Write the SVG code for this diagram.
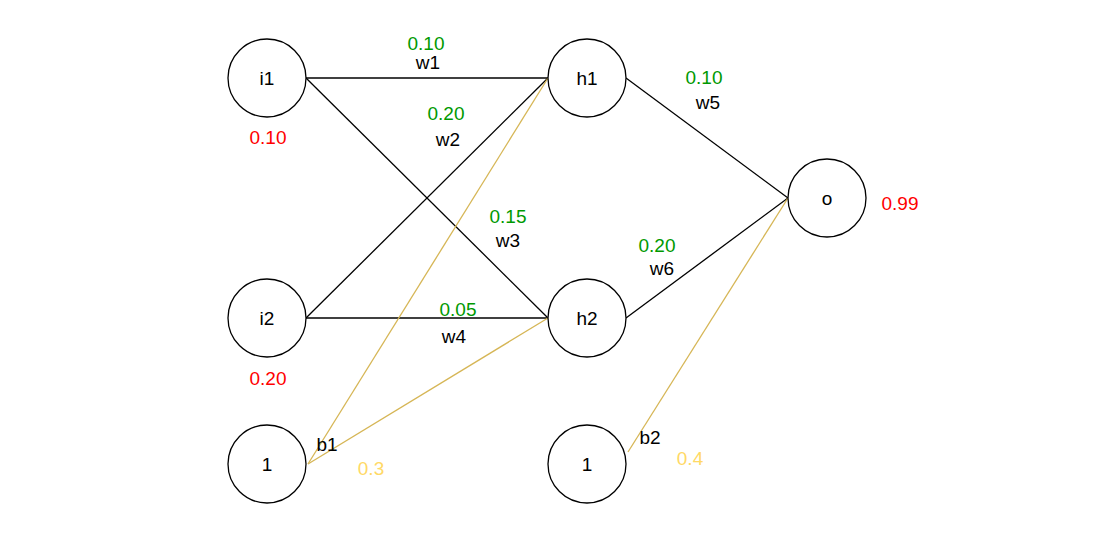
<svg xmlns="http://www.w3.org/2000/svg" width="1117" height="543" viewBox="0 0 1117 543">
<style>
text{font-family:"Liberation Sans",Arial,sans-serif;font-size:19px;text-anchor:middle;dominant-baseline:central}
.n circle{fill:#fff;stroke:#000;stroke-width:1.3}
.g{fill:#009900}.r{fill:#ff0000}.y{fill:#ffd966}
.e line{stroke:#000;stroke-width:1.3}
.e line.b{stroke:#d6b656}
</style>
<rect width="1117" height="543" fill="#fff"/>
<g class="e" id="connectors">
<line x1="306" y1="78" x2="548" y2="78"/>
<line x1="306" y1="78" x2="548" y2="318"/>
<line x1="306" y1="318" x2="548" y2="78"/>
<line x1="306" y1="318" x2="548" y2="318"/>
<line x1="626" y1="78" x2="788" y2="198"/>
<line x1="626" y1="318" x2="788" y2="198"/>
<line class="b" x1="308" y1="464" x2="548" y2="78"/>
<line class="b" x1="308" y1="464" x2="548" y2="318"/>
<line class="b" x1="628" y1="452" x2="788" y2="198"/>
</g>
<g class="n" id="i1"><circle cx="267" cy="78" r="39"/><text x="267" y="78">i1</text></g>
<g class="n" id="i2"><circle cx="267" cy="318" r="39"/><text x="267" y="318">i2</text></g>
<g class="n" id="bias1"><circle cx="267" cy="464" r="39"/><text x="267" y="464">1</text></g>
<g class="n" id="h1"><circle cx="587" cy="78" r="39"/><text x="587" y="78">h1</text></g>
<g class="n" id="h2"><circle cx="587" cy="318" r="39"/><text x="587" y="318">h2</text></g>
<g class="n" id="o"><circle cx="827" cy="198" r="39"/><text x="827" y="198">o</text></g>
<g class="n" id="bias2"><circle cx="587" cy="464" r="39"/><text x="587" y="464">1</text></g>
<g id="labels">
<text class="g" x="426" y="43">0.10</text><text x="428" y="62">w1</text>
<text class="g" x="446" y="113">0.20</text><text x="448" y="139">w2</text>
<text class="g" x="508" y="216">0.15</text><text x="508" y="240">w3</text>
<text class="g" x="458" y="309">0.05</text><text x="454" y="336">w4</text>
<text class="g" x="704" y="77">0.10</text><text x="708" y="102">w5</text>
<text class="g" x="657" y="245">0.20</text><text x="662" y="268">w6</text>
<text class="r" x="268" y="137">0.10</text>
<text class="r" x="268" y="378">0.20</text>
<text class="r" x="900" y="203">0.99</text>
<text x="327" y="444">b1</text><text class="y" x="371" y="468">0.3</text>
<text x="650" y="437">b2</text><text class="y" x="690" y="458">0.4</text>
</g>
</svg>
